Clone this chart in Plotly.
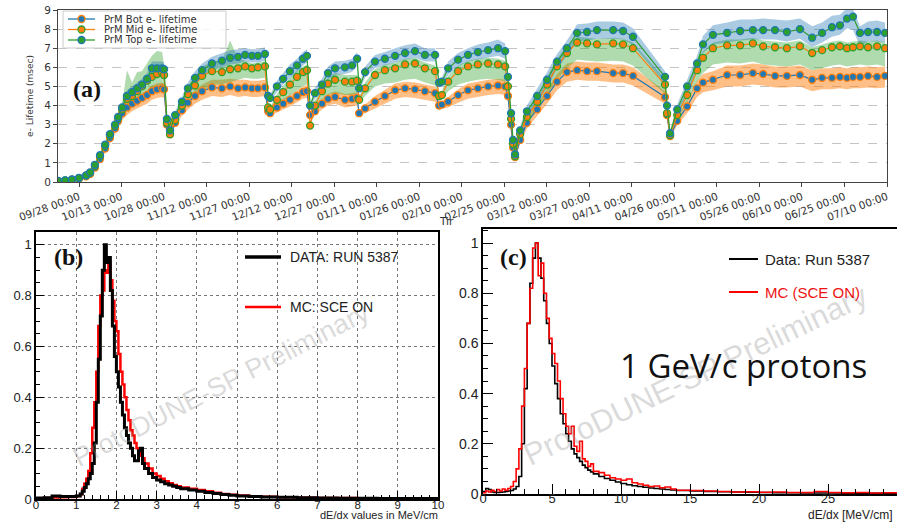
import plotly.graph_objects as go
import pandas as pd

W, H = 897, 523
def px(x): return x / W
def py(y): return 1 - y / H

# ---------------- (a) electron lifetime vs time ----------------
days = [-7.4,-4.9,-2.5,0,2.5,3.9,5.6,7.4,9.2,10.9,12.7,13.8,
        15.2,16.9,18.7,20.5,22.2,24.0,25.7,27.5,29.3,30.0,
        31.0,32.1,
        33.9,36.3,38.4,40.9,43.4,46.9,50.4,53.3,56.1,58.6,61.0,63.1,65.6,
        66.7,67.4,
        69.8,72.0,74.4,76.9,79.0,80.4,
        81.5,
        83.2,85.7,87.8,90.3,93.8,96.3,98.1,
        98.8,
        100.9,104.4,107.9,111.5,115.0,118.5,122.0,125.6,
        127.0,128.0,
        130.2,133.7,137.2,140.7,144.3,147.8,150.3,
        151.3,152.4,153.1,153.8,
        155.6,158.0,161.6,165.1,168.6,172.1,175.7,179.2,182.7,188.4,191.9,195.4,
        206.7,
        207.4,208.5,
        211.0,214.5,218.0,220.1,223.6,228.6,233.2,237.7,241.3,245.5,249.7,254.3,258.6,262.1,265.6,268.4,270.9,273.0,275.5,278.3,281.5,284.3]

bot = [0.05,0.07,0.11,0.18,0.3,0.42,0.75,1.2,1.75,2.3,2.8,3.2,
       3.6,3.9,4.1,4.25,4.4,4.55,4.75,4.85,4.9,4.85,
       3.0,2.5,
       3.1,3.75,4.15,4.5,4.75,4.95,4.9,5.0,4.9,4.95,4.9,4.9,4.95,
       3.7,3.6,
       3.9,4.1,4.3,4.5,4.7,4.75,
       3.5,
       3.7,4.1,4.35,4.45,4.3,4.35,4.4,
       3.6,
       3.85,4.2,4.5,4.8,4.9,4.85,4.75,4.65,
       4.0,4.05,
       4.2,4.55,4.8,4.9,5.0,5.05,5.0,
       4.5,3.0,1.8,1.3,
       2.2,3.1,3.8,4.5,5.25,5.75,5.85,5.8,5.8,5.7,5.7,5.55,
       4.45,
       3.5,2.4,
       3.2,3.95,4.9,5.2,5.35,5.6,5.6,5.7,5.65,5.55,5.55,5.6,5.35,5.45,5.45,5.5,5.45,5.5,5.5,5.55,5.5,5.55]

mid = [0.05,0.08,0.12,0.2,0.33,0.48,0.85,1.35,1.9,2.45,2.95,3.35,
       3.8,4.35,4.5,4.75,5.0,5.3,5.5,5.65,5.7,5.6,
       3.1,2.5,
       3.25,4.0,4.6,5.05,5.55,5.8,5.75,5.9,5.95,6.05,5.95,6.0,6.05,
       3.9,3.8,
       4.3,4.7,5.1,5.5,5.75,5.85,
       2.95,
       4.0,4.75,5.15,5.35,5.25,5.25,5.3,
       4.3,
       4.9,5.6,5.85,5.95,6.15,6.2,5.95,5.8,
       4.5,4.55,
       5.25,5.8,6.05,6.15,6.2,6.15,6.05,
       5.0,3.3,2.0,1.35,
       2.5,3.4,4.2,5.1,6.05,6.75,7.3,7.25,7.2,7.25,7.2,7.0,
       5.1,
       3.6,2.45,
       3.5,4.55,5.85,6.5,7.0,7.15,7.15,7.25,7.1,7.05,7.0,7.1,6.75,6.9,7.05,7.1,7.0,7.05,7.1,7.05,7.1,7.0]

top = [0.06,0.09,0.13,0.22,0.35,0.5,0.9,1.4,1.95,2.5,3.0,3.4,
       3.9,4.5,4.7,4.9,5.1,5.4,5.95,5.95,5.95,5.9,
       3.3,2.7,
       3.5,4.2,4.9,5.45,5.85,6.2,6.35,6.5,6.55,6.65,6.6,6.6,6.7,
       4.5,4.4,
       5.0,5.4,5.8,6.1,6.45,6.6,
       4.0,
       4.65,5.1,5.7,5.95,6.0,6.1,6.45,
       4.9,
       5.75,6.3,6.45,6.6,6.75,6.85,6.65,6.65,
       5.2,5.25,
       5.95,6.4,6.65,6.8,6.9,7.0,6.85,
       5.5,3.6,2.2,1.45,
       2.7,3.7,4.5,5.35,6.3,7.0,7.8,7.85,7.95,7.95,7.9,7.6,
       5.5,
       4.0,2.55,
       3.8,5.0,6.2,7.2,7.7,7.8,7.9,7.95,7.95,7.95,7.85,8.0,7.55,7.8,8.1,8.2,8.55,8.65,7.8,7.85,7.85,7.8]

bot_elo = [0.01,0.02,0.03,0.04,0.06,0.08,0.12,0.18,0.22,0.26,0.3,0.32,
           0.35,0.4,0.4,0.4,0.42,0.45,0.45,0.45,0.45,0.45,
           0.15,0.12,
           0.2,0.3,0.35,0.4,0.45,0.45,0.45,0.45,0.45,0.45,0.45,0.45,0.45,
           0.15,0.15,
           0.25,0.3,0.35,0.35,0.35,0.35,
           0.1,
           0.2,0.3,0.35,0.35,0.4,0.4,0.4,
           0.15,
           0.25,0.35,0.4,0.45,0.45,0.45,0.45,0.45,
           0.2,0.2,
           0.3,0.4,0.45,0.45,0.45,0.45,0.45,
           0.3,0.2,0.12,0.08,
           0.2,0.3,0.35,0.4,0.45,0.5,0.5,0.5,0.5,0.5,0.5,0.5,
           0.35,
           0.2,0.1,
           0.25,0.35,0.45,0.5,0.55,0.6,0.6,0.6,0.6,0.6,0.6,0.6,0.6,0.6,0.6,0.6,0.6,0.6,0.6,0.6,0.6,0.6]
bot_ehi = [0.01,0.01,0.02,0.02,0.03,0.04,0.05,0.06,0.08,0.1,0.12,0.14,
           0.15,0.2,0.2,0.25,0.25,0.25,0.3,0.3,0.3,0.3,
           0.1,0.08,
           0.15,0.2,0.25,0.3,0.35,0.4,0.45,0.4,0.45,0.4,0.4,0.4,0.4,
           0.1,0.1,
           0.2,0.25,0.25,0.3,0.3,0.3,
           0.1,
           0.2,0.25,0.25,0.3,0.3,0.3,0.3,
           0.1,
           0.2,0.3,0.3,0.35,0.35,0.35,0.35,0.35,
           0.15,0.15,
           0.25,0.3,0.35,0.35,0.35,0.35,0.35,
           0.3,0.2,0.12,0.08,
           0.15,0.25,0.3,0.35,0.4,0.45,0.45,0.45,0.45,0.45,0.45,0.45,
           0.3,
           0.15,0.1,
           0.2,0.3,0.4,0.45,0.45,0.5,0.5,0.5,0.5,0.5,0.5,0.5,0.5,0.5,0.5,0.5,0.5,0.5,0.5,0.5,0.5,0.5]
mid_elo = [0.01,0.02,0.02,0.03,0.05,0.06,0.1,0.14,0.18,0.2,0.22,0.25,
           0.3,0.5,0.5,0.55,0.6,0.65,0.7,0.7,0.7,0.7,
           0.12,0.1,
           0.2,0.3,0.45,0.6,0.8,0.7,0.65,0.7,0.6,0.6,0.55,0.6,0.6,
           0.2,0.2,
           0.3,0.45,0.6,0.7,0.75,0.75,
           0.1,
           0.3,0.45,0.6,0.7,0.7,0.7,0.7,
           0.2,
           0.4,0.6,0.7,0.75,0.8,0.8,0.75,0.75,
           0.25,0.25,
           0.5,0.7,0.8,0.8,0.8,0.8,0.8,
           0.3,0.2,0.12,0.08,
           0.2,0.3,0.4,0.55,0.7,0.8,0.9,0.9,0.9,0.9,0.9,0.9,
           0.5,
           0.2,0.1,
           0.25,0.4,0.6,0.8,0.85,0.9,0.95,0.95,0.95,0.95,0.95,0.95,0.9,0.95,0.95,0.95,0.95,0.95,0.95,0.95,0.95,0.95]
mid_ehi = [0.01,0.02,0.02,0.03,0.05,0.06,0.08,0.1,0.12,0.14,0.16,0.2,
           0.3,1.5,0.7,1.0,0.8,0.9,1.1,1.2,1.1,0.5,
           0.1,0.08,
           0.2,0.3,0.4,0.5,0.5,0.5,0.6,1.5,0.5,0.3,0.25,0.25,0.25,
           0.1,0.1,
           0.3,0.35,0.35,0.35,0.3,0.3,
           0.1,
           0.25,0.3,0.3,0.35,0.35,0.35,0.3,
           0.15,
           0.3,0.3,0.3,0.3,0.3,0.3,0.3,0.3,
           0.2,0.2,
           0.3,0.3,0.3,0.3,0.3,0.3,0.3,
           0.3,0.2,0.12,0.08,
           0.2,0.3,0.35,0.4,0.4,0.4,0.3,0.3,0.3,0.3,0.3,0.3,
           0.3,
           0.15,0.1,
           0.25,0.3,0.35,0.35,0.3,0.3,0.3,0.3,0.3,0.3,0.3,0.3,0.3,0.3,0.3,0.3,0.3,0.3,0.3,0.3,0.3,0.3]
top_elo = [0.01,0.01,0.02,0.03,0.04,0.05,0.08,0.1,0.12,0.14,0.16,0.18,
           0.25,0.3,0.3,0.3,0.3,0.3,0.35,0.35,0.35,0.35,
           0.1,0.1,
           0.2,0.25,0.3,0.35,0.35,0.35,0.35,0.35,0.35,0.35,0.35,0.35,0.35,
           0.2,0.2,
           0.3,0.3,0.35,0.35,0.35,0.35,
           0.15,
           0.3,0.3,0.35,0.35,0.35,0.35,0.35,
           0.2,
           0.3,0.35,0.35,0.35,0.35,0.35,0.35,0.35,
           0.25,0.25,
           0.35,0.35,0.35,0.4,0.4,0.4,0.4,
           0.3,0.2,0.12,0.08,
           0.2,0.3,0.35,0.4,0.4,0.4,0.45,0.45,0.45,0.45,0.45,0.45,
           0.35,
           0.2,0.1,
           0.25,0.35,0.4,0.45,0.5,0.5,0.5,0.5,0.5,0.5,0.5,0.5,0.5,0.5,0.5,0.5,0.5,0.7,0.7,0.5,0.5,0.5]
top_ehi = [0.01,0.01,0.02,0.03,0.04,0.05,0.08,0.1,0.12,0.14,0.16,0.2,
           0.25,0.3,0.3,0.3,0.3,0.3,0.35,0.35,0.35,0.35,
           0.1,0.1,
           0.2,0.25,0.3,0.35,0.35,0.35,0.4,0.4,0.4,0.35,0.35,0.35,0.35,
           0.15,0.15,
           0.3,0.3,0.35,0.35,0.35,0.35,
           0.1,
           0.3,0.3,0.35,0.35,0.35,0.35,0.35,
           0.15,
           0.3,0.35,0.35,0.4,0.4,0.4,0.35,0.35,
           0.2,0.2,
           0.35,0.35,0.35,0.4,0.4,0.45,0.4,
           0.3,0.2,0.12,0.08,
           0.2,0.3,0.35,0.4,0.4,0.4,0.45,0.45,0.45,0.45,0.45,0.45,
           0.3,
           0.15,0.1,
           0.25,0.35,0.4,0.45,0.5,0.55,0.6,0.55,0.6,0.55,0.6,0.55,0.6,0.55,0.6,0.55,0.55,0.4,0.35,0.55,0.6,0.55]

tick_dates = ['2018-09-28','2018-10-13','2018-10-28','2018-11-12','2018-11-27',
              '2018-12-12','2018-12-27','2019-01-11','2019-01-26','2019-02-10',
              '2019-02-25','2019-03-12','2019-03-27','2019-04-11','2019-04-26',
              '2019-05-11','2019-05-26','2019-06-10','2019-06-25','2019-07-10']
series_names = ['PrM Bot e- lifetime', 'PrM Mid e- lifetime', 'PrM Top e- lifetime']

# ---------------- (b) muon dE/dx ----------------
b_edges = [0,0.2,0.4,0.6,0.8,1.0,1.1,
           1.15,1.2,1.25,1.3,1.35,1.4,1.45,1.5,1.55,1.6,1.65,1.7,1.75,1.8,1.85,1.9,1.95,
           2.0,2.05,2.1,2.15,2.2,2.25,2.3,2.35,2.4,2.45,2.5,2.55,2.6,2.65,2.7,
           2.8,2.9,3.0,3.1,3.2,3.3,3.4,3.5,3.6,
           3.8,4.0,4.2,4.4,4.6,4.8,5.0,
           5.3,5.6,6.0,6.5,7.0,7.5,8.0,8.5,9.0,9.5,10.0]
b_data = [0.004,0.005,0.012,0.01,0.01,0.012,0.02,
          0.03,0.045,0.06,0.08,0.1,0.14,0.22,0.38,0.55,0.72,0.9,1.0,0.93,0.95,0.82,0.68,0.56,
          0.5,0.44,0.38,0.33,0.28,0.25,0.22,0.2,0.17,0.15,0.15,0.19,0.2,0.14,0.12,
          0.1,0.085,0.075,0.068,0.06,0.055,0.05,0.045,0.04,
          0.035,0.03,0.026,0.022,0.018,0.015,0.012,
          0.01,0.008,0.007,0.005,0.004,0.003,0.003,0.002,0.002,0.002]
b_mc = [0.003,0.004,0.006,0.007,0.008,0.012,0.02,
        0.04,0.06,0.08,0.11,0.18,0.28,0.38,0.5,0.68,0.8,0.82,0.9,0.89,0.93,0.86,0.78,0.7,
        0.66,0.57,0.5,0.45,0.4,0.35,0.31,0.27,0.25,0.22,0.2,0.19,0.17,0.16,0.14,
        0.12,0.1,0.09,0.08,0.07,0.062,0.055,0.05,0.045,
        0.04,0.035,0.03,0.025,0.02,0.017,0.014,
        0.011,0.009,0.007,0.005,0.004,0.004,0.003,0.003,0.003,0.002]

# ---------------- (c) proton dE/dx ----------------
c_edges = [0,0.2,0.4,0.6,0.8,1.0,1.2,1.4,1.6,1.8,2.0,2.2,2.4,2.6,2.8,3.0,3.2,3.4,3.6,3.8,
           4.0,4.2,4.4,4.6,4.8,5.0,5.2,5.4,5.6,5.8,6.0,6.2,6.4,6.6,6.8,7.0,7.2,7.4,7.6,7.8,
           8.0,8.4,8.8,9.2,9.6,10.0,10.4,10.8,11.2,11.6,12.0,12.4,12.8,13.2,13.6,
           14,15,16,17,18,19,20,21,22,23,24,25,26,27,28,29,30]
c_data = [0.01,0.022,0.018,0.008,0.006,0.006,0.007,0.008,0.01,0.012,
          0.014,0.02,0.03,0.07,0.2,0.42,0.68,0.84,0.94,1.0,
          0.94,0.86,0.77,0.68,0.6,0.51,0.44,0.38,0.32,0.28,
          0.24,0.21,0.18,0.16,0.145,0.13,0.115,0.105,0.095,0.088,
          0.08,0.07,0.062,0.055,0.048,0.042,0.037,0.033,0.03,0.027,0.024,0.022,0.02,0.018,0.016,
          0.014,0.012,0.01,0.009,0.008,0.007,0.006,0.005,0.005,0.004,0.004,0.004,0.003,0.003,0.003,0.003]
c_mc = [0.005,0.012,0.008,0.015,0.01,0.018,0.012,0.02,0.015,0.022,
        0.03,0.05,0.1,0.18,0.35,0.5,0.68,0.82,0.98,1.0,
        0.87,0.92,0.8,0.7,0.62,0.56,0.52,0.45,0.38,0.32,
        0.27,0.24,0.27,0.19,0.17,0.21,0.14,0.13,0.11,0.12,
        0.09,0.085,0.075,0.065,0.06,0.055,0.06,0.045,0.04,0.035,0.03,0.032,0.025,0.028,0.02,
        0.015,0.014,0.012,0.01,0.008,0.009,0.007,0.008,0.006,0.006,0.01,0.006,0.005,0.006,0.004,0.005]

# ================= build figure =================
C0, C1, C2 = '#1f77b4', '#ff7f0e', '#2ca02c'
fig = go.Figure()

base = pd.Timestamp('2018-09-28')
xd = [base + pd.Timedelta(days=d) for d in days]

bands = [(bot, bot_elo, bot_ehi, 'rgba(255,127,14,0.5)'),
         (mid, mid_elo, mid_ehi, 'rgba(44,160,44,0.38)'),
         (top, top_elo, top_ehi, 'rgba(31,119,180,0.38)')]
for vals, elo, ehi, col in bands:
    lo = [v - e for v, e in zip(vals, elo)]
    hi = [v + e for v, e in zip(vals, ehi)]
    fig.add_trace(go.Scatter(x=xd + xd[::-1], y=hi + lo[::-1], mode='lines',
                             fill='toself', fillcolor=col, line=dict(width=0),
                             hoverinfo='skip', showlegend=False, xaxis='x', yaxis='y'))

styles = [(bot, C0, C1), (mid, C1, C2), (top, C2, C0)]
for (vals, lc, ec), name in zip(styles, series_names):
    fig.add_trace(go.Scatter(x=xd, y=vals, mode='lines+markers', name=name,
                             line=dict(color=lc, width=1.2),
                             marker=dict(size=7, color=lc, line=dict(color=ec, width=1.3)),
                             xaxis='x', yaxis='y'))

def step(edges, vals):
    return edges, vals + [vals[-1]]

bx, by = step(b_edges, b_mc)
fig.add_trace(go.Scatter(x=bx, y=by, mode='lines', line=dict(color='#ff0000', width=2.5, shape='hv'),
                         name='MC: SCE ON', xaxis='x2', yaxis='y2'))
bx, by = step(b_edges, b_data)
fig.add_trace(go.Scatter(x=bx, y=by, mode='lines', line=dict(color='black', width=3, shape='hv'),
                         name='DATA: RUN 5387', xaxis='x2', yaxis='y2'))
cx, cy = step(c_edges, c_data)
fig.add_trace(go.Scatter(x=cx, y=cy, mode='lines', line=dict(color='black', width=1.6, shape='hv'),
                         name='Data: Run 5387', xaxis='x3', yaxis='y3'))
cx, cy = step(c_edges, c_mc)
fig.add_trace(go.Scatter(x=cx, y=cy, mode='lines', line=dict(color='#ff0000', width=1.6, shape='hv'),
                         name='MC (SCE ON)', xaxis='x3', yaxis='y3'))

mpl_font = dict(family='DejaVu Sans', size=10.5, color='#333')

fig.update_layout(
    width=W, height=H, margin=dict(l=0, r=0, t=0, b=0, autoexpand=False),
    paper_bgcolor='white', plot_bgcolor='white', showlegend=False,
    xaxis=dict(domain=[px(58), px(887)], anchor='y', type='date', automargin=False,
               range=['2018-09-20 14:00', '2019-07-10 00:00'],
               tickvals=tick_dates, tickformat='%m/%d %H:%M', tickangle=-20,
               ticks='outside', ticklen=4, tickcolor='#444', showline=True, linecolor='#444',
               mirror=True, showgrid=False, zeroline=False, tickfont=mpl_font),
    yaxis=dict(domain=[py(182), py(10)], anchor='x', range=[0, 9], dtick=1, automargin=False,
               ticks='outside', ticklen=4, tickcolor='#444', showline=True, linecolor='#444',
               mirror=True, showgrid=True, gridcolor='#c4c4c4', griddash='dash', gridwidth=1,
               zeroline=False, tickfont=mpl_font),
    xaxis2=dict(domain=[px(36), px(438)], anchor='y2', range=[0, 10], dtick=1, automargin=False,
                ticks='inside', ticklen=8, tickcolor='black', ticklabelstandoff=-6,
                minor=dict(ticks='inside', ticklen=4, dtick=0.2, tickcolor='black'),
                showgrid=True, gridcolor='#777', griddash='dot', gridwidth=1,
                showline=True, mirror=True, linecolor='black', linewidth=1.5,
                zeroline=False, tickfont=dict(family='Liberation Sans', size=11.5, color='#222')),
    yaxis2=dict(domain=[py(499), py(232)], anchor='x2', range=[0, 1.05], dtick=0.2, automargin=False,
                ticks='inside', ticklen=8, tickcolor='black',
                minor=dict(ticks='inside', ticklen=4, dtick=0.05, tickcolor='black'),
                showgrid=True, gridcolor='#777', griddash='dot', gridwidth=1,
                showline=True, mirror=True, linecolor='black', linewidth=1.5,
                zeroline=False, tickfont=dict(family='Liberation Sans', size=13, color='#222')),
    xaxis3=dict(domain=[px(483), 1.0], anchor='y3', range=[0, 30], dtick=5, automargin=False,
                ticks='inside', ticklen=10, tickcolor='black', ticklabelstandoff=-8,
                minor=dict(ticks='inside', ticklen=5, dtick=1, tickcolor='black'),
                showgrid=False, showline=True, mirror=True, linecolor='black', linewidth=1.5,
                zeroline=False, tickfont=dict(family='Liberation Sans', size=13, color='#222')),
    yaxis3=dict(domain=[py(494), py(229)], anchor='x3', range=[0, 1.056], dtick=0.2, automargin=False,
                ticks='inside', ticklen=10, tickcolor='black',
                minor=dict(ticks='inside', ticklen=5, dtick=0.05, tickcolor='black'),
                showgrid=False, showline=True, mirror=True, linecolor='black', linewidth=1.5,
                zeroline=False, tickfont=dict(family='Liberation Sans', size=14, color='#222')),
)

ann = []
def A(text, x, y, size, color='#222', family='Liberation Sans', xanchor='left', yanchor='middle', angle=0):
    ann.append(dict(text=text, x=px(x), y=py(y), xref='paper', yref='paper', showarrow=False,
                    xanchor=xanchor, yanchor=yanchor, textangle=angle,
                    font=dict(family=family, size=size, color=color)))

# watermarks
A('ProtoDUNE-SP Preliminary', 221, 385, 27, 'rgba(150,150,150,0.35)', xanchor='center', angle=-27)
A('ProtoDUNE-SP Preliminary', 695, 375, 31, 'rgba(150,150,150,0.35)', xanchor='center', angle=-25.6)

# panel labels
A('<b>(a)</b>', 71, 89, 24, '#111', 'Liberation Serif')
A('<b>(b)</b>', 52, 257, 24, '#111', 'Liberation Serif')
A('<b>(c)</b>', 498, 257, 24, '#111', 'Liberation Serif')

# axis titles
A('e- Lifetime (msec)', 30, 96, 9, '#333', 'DejaVu Sans', xanchor='center', angle=-90)
A('Tir', 437, 221, 10.5, '#333', 'DejaVu Sans')
A('dE/dx values in MeV/cm', 440, 523, 11, '#222', xanchor='right', yanchor='bottom')
A('dE/dx [MeV/cm]', 895, 524, 12, '#222', xanchor='right', yanchor='bottom')

# top legend text
legend_rows = [19, 29.5, 40]
for name, yy in zip(series_names, legend_rows):
    A(name, 102, yy, 10, '#333', 'DejaVu Sans')

# (b) legend text
A('DATA: RUN 5387', 288, 257, 14, '#222')
A('MC: SCE ON', 288, 307, 14, '#222')
# (c) legend text
A('Data: Run 5387', 763, 259, 15, '#222')
A('MC (SCE ON)', 763, 292, 15, '#ee1111')

A('1 GeV/c protons', 618, 365, 33, '#111', 'Open Sans')

shapes = []
shapes.append(dict(type='rect', xref='paper', yref='paper', x0=px(63), x1=px(226), y0=py(48), y1=py(11),
                   line=dict(color='#cccccc', width=1), fillcolor='rgba(255,255,255,0.85)'))
for (vals, lc, ec), yy in zip(styles, legend_rows):
    shapes.append(dict(type='line', xref='paper', yref='paper', x0=px(68), x1=px(95), y0=py(yy), y1=py(yy),
                       line=dict(color=lc, width=1.3)))
    shapes.append(dict(type='circle', xref='paper', yref='paper', xsizemode='pixel', ysizemode='pixel',
                       xanchor=px(81.5), yanchor=py(yy), x0=-3.5, x1=3.5, y0=-3.5, y1=3.5,
                       fillcolor=lc, line=dict(color=ec, width=1.3)))
# (b) legend samples
shapes.append(dict(type='line', xref='paper', yref='paper', x0=px(245), x1=px(281), y0=py(257), y1=py(257),
                   line=dict(color='black', width=3.5)))
shapes.append(dict(type='line', xref='paper', yref='paper', x0=px(245), x1=px(281), y0=py(307), y1=py(307),
                   line=dict(color='#ff0000', width=2.5)))
# (c) legend samples
shapes.append(dict(type='line', xref='paper', yref='paper', x0=px(729), x1=px(758), y0=py(259), y1=py(259),
                   line=dict(color='black', width=2)))
shapes.append(dict(type='line', xref='paper', yref='paper', x0=px(729), x1=px(758), y0=py(292), y1=py(292),
                   line=dict(color='#ff0000', width=2)))

fig.update_layout(annotations=ann, shapes=shapes)
fig.write_html('out.html')
